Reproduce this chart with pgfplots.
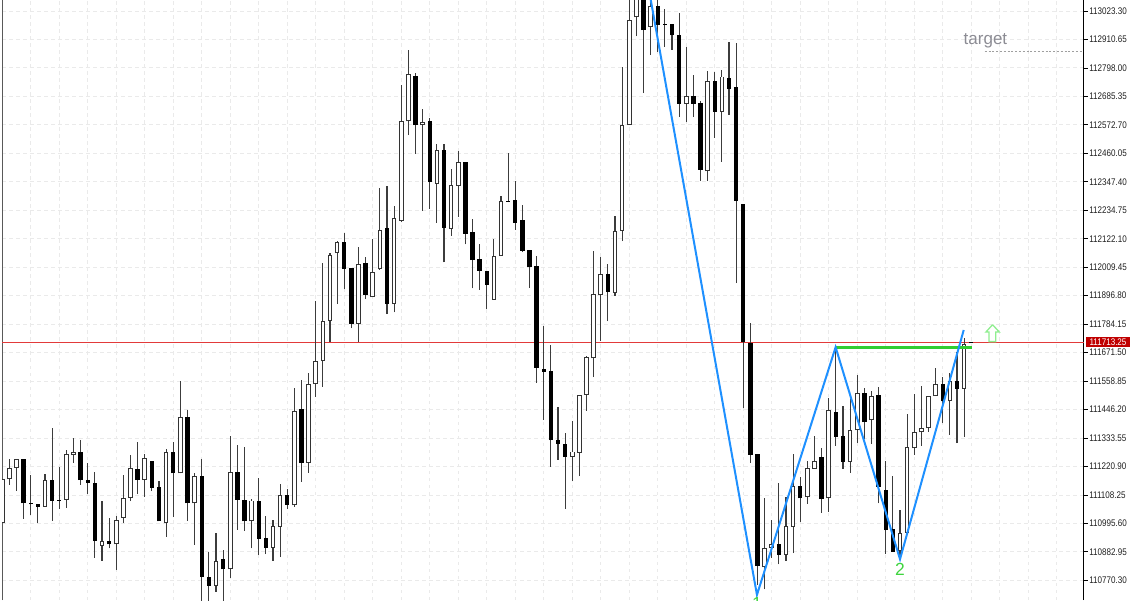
\documentclass[border=0pt]{standalone}
\usepackage{pgfplots}
\usepackage{pgfplotstable}
\usepackage{fontspec}
\pgfplotsset{compat=1.18}
\setmainfont{Liberation Sans}
\newfontfamily\tickfont[FakeStretch=0.84]{Liberation Sans}
\definecolor{griddash}{HTML}{EAEAEA}
\definecolor{wick}{HTML}{3C3C3C}
\definecolor{zig}{HTML}{1E90FF}
\definecolor{lvl}{HTML}{32CD32}
\definecolor{cur}{HTML}{E23A3A}
\definecolor{curbox}{HTML}{C00000}
\definecolor{targ}{HTML}{8C8C94}
\definecolor{arrowg}{HTML}{90EE90}
\definecolor{num}{HTML}{3ED43E}
% up candles: index, high, body top (close), body bottom (open), low
\pgfplotstableread{
i hi top bot lo
0 111171 111171 110997 110997
1 111249 111214 111170 111148
2 111251 111251 111215 111125
6 111191 111168 111062 111062
9 111288 111269 111089 111057
10 111333 111277 111268 111235
14 111083 110925 110908 110848
16 111026 111008 110913 110812
17 111189 111096 111018 110999
18 111265 111216 111096 111084
20 111269 111256 111167 111102
23 111289 111277 110997 110943
25 111558 111417 111194 111194
27 111196 111182 111075 110912
30 110957 110847 110749 110726
32 111343 111198 110814 110781
35 111091 111086 111004 110897
38 111008 110984 110899 110848
39 111153 111107 110983 110862
41 111530 111442 111067 111062
43 111590 111547 111234 111196
44 111876 111638 111547 111497
45 112027 111798 111638 111537
46 112065 112059 111798 111714
47 112115 112109 112065 111863
50 112088 112023 111786 111714
52 112122 111989 111891 111891
53 112323 112157 112001 111999
55 112253 112203 111864 111831
56 112729 112587 112194 112187
57 112869 112773 112587 112532
59 112637 112585 112572 112232
61 112496 112474 112340 112186
63 112397 112334 112160 112134
64 112468 112425 112330 112210
69 112120 112055 111881 111881
70 112291 112271 112053 112053
80 111400 111280 111260 111162
81 111504 111503 111276 111183
82 111657 111655 111505 111441
83 112073 111904 111649 111575
84 112049 111982 111900 111718
86 112212 112154 111909 111897
87 112803 112572 112153 112113
88 113087 112988 112572 112572
89 113120 113107 112998 112924
91 113087 113043 112960 112849
96 112881 112688 112657 112584
99 112787 112745 112389 112350
101 112791 112764 112625 112427
107 111095 110900 110822 110735
108 111009 110913 110899 110860
110 111102 110986 110870 110848
111 111269 111145 110983 110878
113 111243 111214 111100 111073
114 111341 111242 111212 111211
116 111491 111443 111095 111041
119 111495 111364 111240 111196
120 111583 111511 111364 111313
122 111520 111499 111404 111310
126 111049 110957 110887 110854
127 111428 111298 110959 110957
128 111507 111358 111293 111267
129 111538 111372 111356 111302
130 111499 111499 111372 111359
131 111610 111547 111499 111499
133 111590 111558 111479 111346
135 111729 111706 111529 111339
}\upcandles
% down candles: index, high, body top (open), body bottom (close), low
\pgfplotstableread{
i hi top bot lo
3 111249 111249 111075 111014
4 111189 111075 111071 111028
5 111073 111073 111062 110997
7 111372 111168 111086 111007
8 111218 111090 111086 111054
11 111326 111277 111167 111149
12 111234 111168 111156 111113
13 111199 111157 110926 110859
15 111017 110925 110913 110897
19 111319 111210 111167 111112
21 111242 111242 111137 111123
22 111164 111140 111004 111004
24 111317 111277 111194 111021
26 111446 111417 111075 111007
28 111249 111182 110783 110673
29 110883 110783 110749 110673
31 110890 110854 110814 110673
33 111305 111198 111089 110970
34 111297 111090 111004 110967
36 111174 111086 110934 110872
37 111026 110939 110899 110874
40 111132 111107 111069 111053
42 111563 111447 111234 111161
48 112144 112109 112004 111922
49 112008 112007 111786 111768
51 112049 112027 111898 111883
54 112331 112165 111864 111824
58 112777 112766 112572 112458
60 112600 112587 112346 112240
62 112496 112474 112166 112029
65 112425 112425 112142 112100
66 112199 112150 112037 111926
67 112100 112043 111995 111920
68 111996 111996 111940 111846
71 112460 112273 112268 112267
72 112351 112274 112185 112158
73 112256 112195 112074 112069
74 112079 112077 112011 111929
75 112055 112013 111612 111553
76 111777 111608 111595 111405
77 111701 111598 111325 111219
78 111456 111326 111311 111247
79 111355 111311 111260 111053
85 112021 111982 111913 111796
90 113107 113107 112948 112698
92 113079 113043 112967 112861
93 113030 112971 112968 112882
94 112972 112972 112927 112869
95 113014 112930 112657 112605
97 112770 112686 112657 112603
98 112668 112658 112395 112350
100 112781 112745 112625 112522
102 112901 112760 112714 112613
103 112896 112724 112272 111946
104 112260 112260 111714 111451
105 111790 111711 111268 111236
106 111271 111271 110827 110752
109 111155 110914 110870 110834
112 111181 111143 111095 111003
115 111295 111259 111092 111038
117 111693 111435 111339 111302
118 111460 111341 111240 111211
121 111532 111512 111396 111331
123 111534 111503 111139 111075
124 111244 111129 110969 110876
125 111183 110974 110884 110884
132 111574 111547 111479 111392
134 111674 111559 111529 111313
136 111714 111714 111709 111709
}\downcandles
\begin{document}
\begin{tikzpicture}
\path[use as bounding box] (-2pt,0pt) rectangle (1138pt,600pt);
\begin{axis}[
  at={(0pt,0pt)}, anchor=south west, scale only axis,
  width=1082pt, height=600pt,
  xmin=-0.028, xmax=151.83, ymin=110692.6, ymax=113066.8,
  axis x line*=bottom, axis y line*=right,
  x axis line style={draw=none},
  y axis line style={black, line width=1pt, -},
  xtick={4,8,...,148}, xticklabel=\empty,
  x tick style={draw=none},
  ytick={113023.30,112910.65,112798.00,112685.35,112572.70,112460.05,112347.40,112234.75,112122.10,112009.45,111896.80,111784.15,111671.50,111558.85,111446.20,111333.55,111220.90,111108.25,110995.60,110882.95,110770.30},
  yticklabels={113023.30,112910.65,112798.00,112685.35,112572.70,112460.05,112347.40,112234.75,112122.10,112009.45,111896.80,111784.15,111671.50,111558.85,111446.20,111333.55,111220.90,111108.25,110995.60,110882.95,110770.30},
  tick align=outside, major tick length=4pt,
  y tick style={black, line width=0.8pt},
  yticklabel style={font=\tickfont\fontsize{9.6}{11}\selectfont, text=black!88, xshift=-2.2pt},
  xmajorgrids, ymajorgrids,
  grid style={griddash, line width=0.9pt, dash pattern=on 3.5pt off 3.5pt},
  clip=true,
  candle/.style={forget plot, draw=none, mark=none, error bars/.cd, y dir=plus, y explicit, error mark=none, error bar style={#1}},
  after end axis/.code={
    \node[text=num, font=\fontsize{17.5}{19}\selectfont] at (axis cs:105.93,110677) {1};
    \node[fill=curbox, text=white, inner sep=0pt, minimum width=43.5pt, minimum height=9.8pt, font=\tickfont\fontsize{9.6}{11}\selectfont] at (axis cs:155.2,111713.25) {111713.25};
  },
]
% left border, current price line
\addplot[forget plot, color=black!65, line width=1.2pt] coordinates {(0.02,110692.6) (0.02,113066.8)};
\addplot[forget plot, color=cur, line width=1pt] coordinates {(-0.03,111713.25) (151.83,111713.25)};
% wicks
\addplot[candle={wick, line width=1.15pt}]
  table[x=i, y=lo, y error expr=\thisrow{hi}-\thisrow{lo}] {\upcandles};
\addplot[candle={wick, line width=1.15pt}]
  table[x=i, y=lo, y error expr=\thisrow{hi}-\thisrow{lo}] {\downcandles};
% bodies
\addplot[candle={black, line width=4.4pt}]
  table[x=i, y=bot, y error expr=\thisrow{top}-\thisrow{bot}] {\downcandles};
\addplot[candle={black!80, line width=4.6pt}]
  table[x=i, y=bot, y error expr=\thisrow{top}-\thisrow{bot}] {\upcandles};
\addplot[candle={white, line width=2.6pt}]
  table[x=i, y expr=\thisrow{bot}+3.6, y error expr=\thisrow{top}-\thisrow{bot}-7.2] {\upcandles};
% green level and zigzag
\addplot[forget plot, color=lvl, line width=2.8pt] coordinates {(116.97,111693) (136.1,111693)};
\addplot[forget plot, color=zig, line width=2pt, line join=miter] coordinates {(90.9,113087) (105.93,110713) (116.97,111693) (126.01,110854) (134.95,111761)};
% target level
\addplot[forget plot, color=gray!75, line width=0.9pt, dash pattern=on 2pt off 1.8pt] coordinates {(137.9,112865) (151.83,112865)};
% arrow
\addplot[forget plot, draw=arrowg, fill=white, line width=1.3pt] coordinates {(139,111782) (139.94,111753) (139.44,111753) (139.44,111715) (138.5,111715) (138.5,111753) (138.07,111753) (139,111782)};
\node[text=targ, font=\fontsize{17}{19}\selectfont] at (axis cs:138,112905) {target};
\node[text=num, font=\fontsize{17.5}{19}\selectfont] at (axis cs:126.0,110815) {2};
\end{axis}
\end{tikzpicture}
\end{document}
